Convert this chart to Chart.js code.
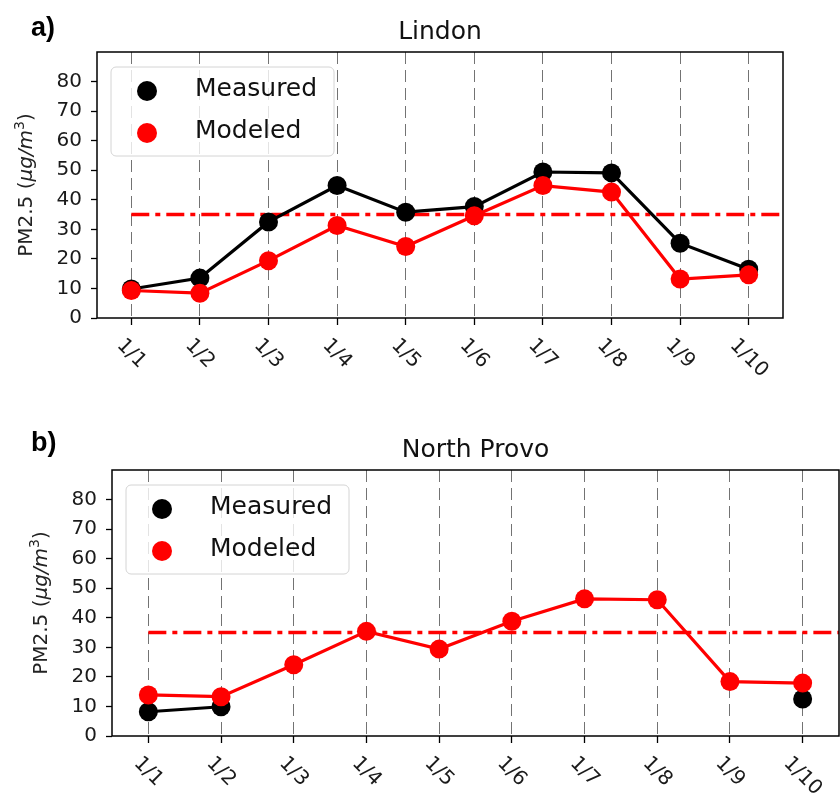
<!DOCTYPE html>
<html><head><meta charset="utf-8">
<script src="https://cdn.jsdelivr.net/npm/chart.js@4.4.0/dist/chart.umd.min.js"></script>
<style>
html,body{margin:0;padding:0;background:#fff;}
#wrap{position:relative;width:840px;height:794px;overflow:hidden;background:#fff;}
canvas{position:absolute;left:0;}
</style></head><body>
<div id="wrap">
<canvas id="c1" width="840" height="400" style="top:0px"></canvas>
<canvas id="c2" width="840" height="394" style="top:400px"></canvas>
</div>
<script>
// ---- data ----
const dates = ['1/1','1/2','1/3','1/4','1/5','1/6','1/7','1/8','1/9','1/10'];
const yTicks = [0,10,20,30,40,50,60,70,80];
const seriesNames = ['Measured','Modeled'];
const titles = ['Lindon','North Provo'];
const panelTags = ['a)','b)'];
const lindonMeasured = [9.8, 13.5, 32.5, 44.8, 35.8, 37.7, 49.4, 49.1, 25.3, 16.5];
const lindonModeled  = [9.3, 8.4, 19.4, 31.3, 24.2, 34.6, 44.8, 42.6, 13.2, 14.6];
const provoMeasured  = [8.2, 9.9, null, null, null, null, null, null, null, 12.5];
const provoModeled   = [13.9, 13.3, 24.1, 35.4, 29.4, 38.8, 46.4, 46.1, 18.4, 17.9];
const standard = 35;

Chart.defaults.font.family = 'DejaVu Sans';

const toXY = arr => arr.map((v, i) => ({x: i, y: v}));
const X_MIN = -0.5, X_MAX = dates.length - 0.5;

const decor = {
  id: 'decor',
  afterDraw(chart, args, o) {
    const ctx = chart.ctx, a = chart.chartArea;
    const xs = chart.scales.x;
    ctx.save();
    // frame
    ctx.strokeStyle = '#000'; ctx.lineWidth = 1.5;
    ctx.strokeRect(a.left, a.top, a.right - a.left, a.bottom - a.top);
    // title
    ctx.fillStyle = '#111';
    ctx.font = '25px "DejaVu Sans"';
    ctx.textAlign = 'center'; ctx.textBaseline = 'alphabetic';
    ctx.fillText(o.title, (a.left + a.right) / 2, a.top - 13);
    // panel tag
    ctx.font = 'bold 27px "Liberation Sans"';
    ctx.textAlign = 'left';
    ctx.fillStyle = '#000';
    ctx.fillText(o.tag, 31, o.tagBaseline);
    // x tick labels rotated
    ctx.font = '20px "DejaVu Sans"';
    ctx.fillStyle = '#1a1a1a';
    const s45 = Math.SQRT1_2;
    dates.forEach((d, i) => {
      const px = xs.getPixelForValue(i);
      const w = ctx.measureText(d).width;
      const h = 15;
      const bh = (w + h) * s45;
      const cy = a.bottom + 19 + bh / 2;
      ctx.save();
      ctx.translate(px, cy);
      ctx.rotate(Math.PI / 4);
      ctx.textAlign = 'center'; ctx.textBaseline = 'middle';
      ctx.fillText(d, 0, 0);
      ctx.restore();
    });
    // y axis label with mathtext-like pieces
    const parts = [
      {t: 'PM2.5 (', f: '20px "DejaVu Sans"', dy: 0},
      {t: 'μg/m', f: 'italic 20px "DejaVu Sans"', dy: 0},
      {t: '3', f: '14px "DejaVu Sans"', dy: -8},
      {t: ')', f: '20px "DejaVu Sans"', dy: 0}
    ];
    let total = 0;
    parts.forEach(p => { ctx.font = p.f; p.w = ctx.measureText(p.t).width; total += p.w; });
    ctx.save();
    ctx.translate(a.left - 72, (a.top + a.bottom) / 2);
    ctx.rotate(-Math.PI / 2);
    ctx.textAlign = 'left'; ctx.textBaseline = 'alphabetic';
    ctx.fillStyle = '#222';
    let xx = -total / 2;
    parts.forEach(p => { ctx.font = p.f; ctx.fillText(p.t, xx, 7 + p.dy); xx += p.w; });
    ctx.restore();
    // legend
    const bx = a.left + 14, by = a.top + 15, bw = 223, bhh = 89;
    ctx.beginPath();
    ctx.roundRect(bx, by, bw, bhh, 5);
    ctx.fillStyle = 'rgba(255,255,255,0.8)';
    ctx.fill();
    ctx.strokeStyle = '#d4d4d4'; ctx.lineWidth = 1;
    ctx.stroke();
    ctx.font = '25px "DejaVu Sans"';
    ctx.textAlign = 'left'; ctx.textBaseline = 'middle';
    [0, 1].forEach(k => {
      const ds = chart.data.datasets[k];
      const ry = by + 24 + k * 42;
      ctx.beginPath();
      ctx.arc(bx + 36, ry, 10, 0, Math.PI * 2);
      ctx.fillStyle = ds.pointBackgroundColor;
      ctx.fill();
      ctx.fillStyle = '#111';
      ctx.fillText(ds.label, bx + 84, ry - 2);
    });
    ctx.restore();
  }
};

function makeChart(id, measured, modeled, o) {
  return new Chart(document.getElementById(id), {
    type: 'line',
    data: {
      datasets: [
        {label: seriesNames[0], data: toXY(measured), borderColor: '#000000', backgroundColor: '#000000',
         pointBackgroundColor: '#000000', pointBorderWidth: 0, pointRadius: 9.5, borderWidth: 3.2, tension: 0,
         spanGaps: false, order: 1},
        {label: seriesNames[1], data: toXY(modeled), borderColor: '#ff0000', backgroundColor: '#ff0000',
         pointBackgroundColor: '#ff0000', pointBorderWidth: 0, pointRadius: 9.5, borderWidth: 3.2, tension: 0,
         spanGaps: false, order: 0},
        {label: 'Standard', data: [{x: 0, y: standard}, {x: X_MAX, y: standard}], borderColor: '#ff0000',
         borderWidth: 3.5, borderDash: [18, 6, 5, 6], pointRadius: 0, order: 2}
      ]
    },
    options: {
      responsive: false, animation: false, devicePixelRatio: 1, events: [],
      layout: {padding: o.padding, autoPadding: false},
      plugins: {legend: {display: false}, tooltip: {enabled: false}, title: {display: false},
                decor: {title: o.title, tag: o.tag, tagBaseline: o.tagBaseline}},
      scales: {
        x: {type: 'linear', min: X_MIN, max: X_MAX,
            afterFit: s => { s.height = o.xh; },
            afterBuildTicks: s => { s.ticks = dates.map((d, i) => ({value: i})); },
            ticks: {display: false, autoSkip: false},
            grid: {drawOnChartArea: true, drawTicks: true, tickLength: 7, color: 'rgba(0,0,0,0.55)',
                   lineWidth: 1, tickColor: '#000', tickWidth: 1.3},
            border: {display: false, dash: [12, 6]}},
        y: {type: 'linear', min: 0, max: 90,
            afterFit: s => { s.width = o.yw; },
            afterBuildTicks: s => { s.ticks = yTicks.map(v => ({value: v})); },
            ticks: {font: {family: 'DejaVu Sans', size: 20}, color: '#1a1a1a', padding: 9},
            grid: {drawOnChartArea: false, drawTicks: true, tickLength: 6, tickColor: '#000', tickWidth: 1.3},
            border: {display: false}}
      }
    },
    plugins: [decor]
  });
}

makeChart('c1', lindonMeasured, lindonModeled,
  {padding: {left: 0, top: 52, right: 57, bottom: 0}, xh: 82, yw: 97,
   title: titles[0], tag: panelTags[0], tagBaseline: 36});
makeChart('c2', provoMeasured, provoModeled,
  {padding: {left: 0, top: 70, right: 1, bottom: 0}, xh: 58, yw: 112,
   title: titles[1], tag: panelTags[1], tagBaseline: 51});
</script>
</body></html>
